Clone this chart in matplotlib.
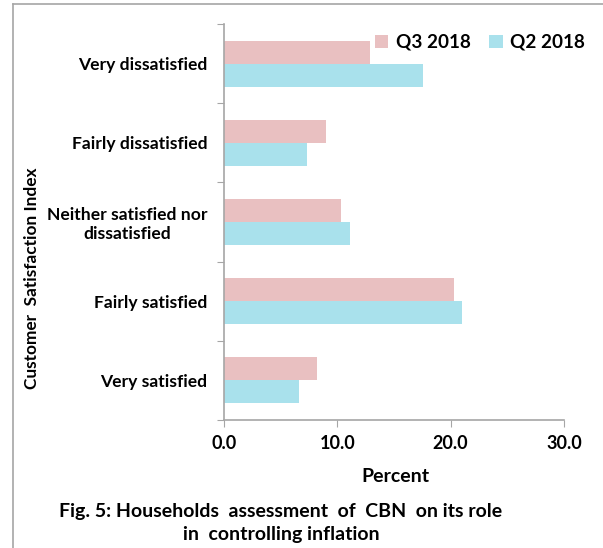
import numpy as np
import matplotlib.pyplot as plt
from matplotlib.lines import Line2D

## Data
categories = ['Very satisfied', 'Fairly satisfied', 'Neither satisfied nor\ndissatisfied',
              'Fairly dissatisfied', 'Very dissatisfied']
q3_2018 = [8.2, 20.3, 10.3, 9.0, 12.9]
q2_2018 = [6.6, 21.0, 11.1, 7.3, 17.6]
xticks = [0.0, 10.0, 20.0, 30.0]

plt.rcParams['font.family'] = ['Lato', 'DejaVu Sans']
plt.rcParams['font.weight'] = 'bold'

W, H = 603., 548.
fig = plt.figure(figsize=(W/100, H/100), dpi=100)
ax = fig.add_axes([224/W, 128/H, 340/W, 396/H])

# frame lines (left and top only, the rest is cut off)
grey = '#A6A6A6'
fig.lines.append(Line2D([13/W, 13/W], [0, 1 - 4/H], transform=fig.transFigure,
                        color=grey, linewidth=1.2))
fig.lines.append(Line2D([13/W, 1], [1 - 4/H, 1 - 4/H], transform=fig.transFigure,
                        color=grey, linewidth=1.2))

y = np.arange(len(categories))
h = 0.29
ax.barh(y + h/2, q3_2018, height=h, color='#E9C0C1', label='Q3 2018')
ax.barh(y - h/2, q2_2018, height=h, color='#A9E1EC', label='Q2 2018')

ax.set_ylim(-0.5, len(categories) - 0.5)
ax.set_xlim(0, 30)
ax.set_xticks(xticks)
ax.set_xticklabels(['%.1f' % v for v in xticks], fontsize=13, fontweight='bold')
ax.set_yticks(np.arange(len(categories) + 1) - 0.5)
ax.set_yticklabels([])
ax.set_yticks(y, minor=True)
ax.set_yticklabels(categories, minor=True, fontsize=12.6, fontweight='bold',
                   ha='right', multialignment='center')
ax.tick_params(axis='y', which='minor', length=0, pad=12)
ax.tick_params(axis='y', which='major', length=5, color=grey)
ax.tick_params(axis='x', length=5, color=grey, pad=6)

for s in ['top', 'right']:
    ax.spines[s].set_visible(False)
for s in ['left', 'bottom']:
    ax.spines[s].set_color(grey)
    ax.spines[s].set_linewidth(1.2)

fig.text(395/W, 1 - 476/H, 'Percent', ha='center', va='center',
         fontsize=14, fontweight='bold')
fig.text(32/W, 1 - 278/H, 'Customer  Satisfaction Index', rotation=90,
         ha='center', va='center', fontsize=12.4, fontweight='bold')

ax.legend(loc='upper right', bbox_to_anchor=(585/340 - 224/340, 1 - 10/396), ncol=2,
          frameon=False, prop={'weight': 'bold', 'size': 13.6}, handlelength=0.7,
          handleheight=0.7, columnspacing=1.0, handletextpad=0.4, borderpad=0,
          borderaxespad=0)

fig.text(281/W, 1 - 523/H, 'Fig. 5: Households  assessment  of  CBN  on its role\nin  controlling inflation',
         ha='center', va='center', fontsize=14, fontweight='bold', linespacing=1.4)

fig.savefig('out.png', dpi=100)
